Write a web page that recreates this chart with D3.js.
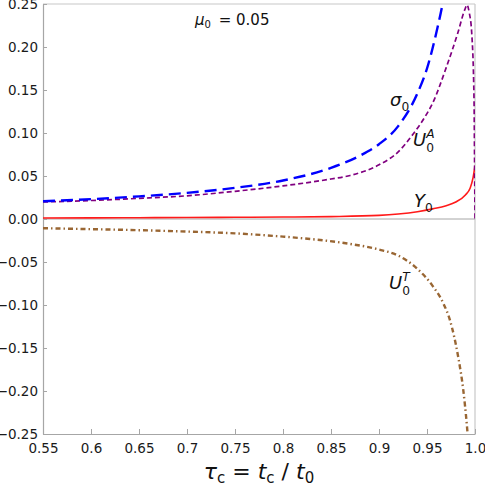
<!DOCTYPE html>
<html>
<head>
<meta charset="utf-8">
<script src="https://cdn.jsdelivr.net/npm/d3@7"></script>
<style>
  body { margin: 0; background: #fff; }
  svg { display: block; font-family: 'DejaVu Sans', sans-serif; }
</style>
</head>
<body>
<svg id="chart" width="485" height="485"></svg>
<script>
// tick positions and labels
const xTicks = [0.55, 0.6, 0.65, 0.7, 0.75, 0.8, 0.85, 0.9, 0.95, 1.0]
const xTickLabels = ['0.55', '0.6', '0.65', '0.7', '0.75', '0.8', '0.85', '0.9', '0.95', '1.0']
const yTicks = [0.25, 0.2, 0.15, 0.1, 0.05, 0, -0.05, -0.1, -0.15, -0.2, -0.25]
const yTickLabels = ['0.25', '0.20', '0.15', '0.10', '0.05', '0.00', '\u22120.05', '\u22120.10', '\u22120.15', '\u22120.20', '\u22120.25']

// sigma_0 (blue long dashes)
const sigmaT = [0.55, 0.6, 0.65, 0.7, 0.75, 0.8, 0.85, 0.88, 0.9, 0.92, 0.94, 0.95, 0.96, 0.967, 0.972]
const sigmaV = [0.0207, 0.0231, 0.0263, 0.0304, 0.0362, 0.0448, 0.0595, 0.0735, 0.087, 0.108, 0.146, 0.175, 0.218, 0.255, 0.29]

// U_0^A (purple short dashes)
const uaT = [0.55, 0.6, 0.65, 0.7, 0.75, 0.8, 0.85, 0.87, 0.9, 0.92, 0.935, 0.948, 0.956, 0.97, 0.982, 0.9896, 0.9917, 0.994, 0.9966, 0.999, 0.9996, 1.0]
const uaV = [0.0198, 0.0215, 0.024, 0.027, 0.0322, 0.0385, 0.0465, 0.0506, 0.063, 0.078, 0.098, 0.119, 0.135, 0.176, 0.216, 0.244, 0.249, 0.24, 0.216, 0.138, 0.06, 0]

// Y_0 (red solid)
const yT = [0.55, 0.6, 0.65, 0.7, 0.75, 0.8, 0.85, 0.9, 0.92, 0.94, 0.956, 0.97, 0.98, 0.99, 0.995, 0.998, 1.0]
const yV = [0.0012, 0.0013, 0.0015, 0.0017, 0.002, 0.0023, 0.0028, 0.0042, 0.0058, 0.0085, 0.0118, 0.0155, 0.0198, 0.028, 0.036, 0.048, 0.062]

// U_0^T (brown dash-dot)
const utT = [0.55, 0.6, 0.65, 0.7, 0.75, 0.8, 0.835, 0.87, 0.9, 0.92, 0.94, 0.956, 0.967, 0.974, 0.9826, 0.9878, 0.9914, 0.995]
const utV = [-0.0107, -0.0118, -0.013, -0.0146, -0.0167, -0.0205, -0.024, -0.029, -0.0355, -0.0425, -0.058, -0.078, -0.098, -0.118, -0.161, -0.199, -0.238, -0.29]

const width = 485, height = 485
const margin = {top: 4, right: 10, bottom: 51, left: 43}
const plotW = width - margin.left - margin.right
const plotH = height - margin.top - margin.bottom

const svg = d3.select('#chart')

const x = d3.scaleLinear().domain([0.55, 1.0]).range([margin.left, margin.left + plotW])
const y = d3.scaleLinear().domain([-0.25, 0.25]).range([margin.top + plotH, margin.top])

svg.append('defs').append('clipPath').attr('id', 'clip')
  .append('rect')
  .attr('x', margin.left).attr('y', margin.top)
  .attr('width', plotW).attr('height', plotH)

// frame
const frameColor = '#a6a6a6'
svg.append('line')
  .attr('x1', x(0.55)).attr('x2', x(1.0)).attr('y1', y(0.25)).attr('y2', y(0.25))
  .attr('stroke', '#c8c8c8').attr('stroke-width', 1.2)
svg.append('line')
  .attr('x1', x(1.0)).attr('x2', x(1.0)).attr('y1', y(0.25)).attr('y2', y(-0.25))
  .attr('stroke', '#c8c8c8').attr('stroke-width', 1.2)
// zero line
svg.append('line')
  .attr('x1', x(0.55)).attr('x2', x(1.0)).attr('y1', y(0)).attr('y2', y(0))
  .attr('stroke', frameColor).attr('stroke-width', 1)

// axes
const xAxis = d3.axisBottom(x).tickValues(xTicks).tickSizeInner(-5).tickSizeOuter(0)
  .tickPadding(9).tickFormat((d, i) => xTickLabels[i])
const yAxis = d3.axisLeft(y).tickValues(yTicks).tickSizeInner(-4).tickSizeOuter(0)
  .tickPadding(5).tickFormat((d, i) => yTickLabels[i])

const gx = svg.append('g').attr('transform', `translate(0,${margin.top + plotH})`).call(xAxis)
const gy = svg.append('g').attr('transform', `translate(${margin.left},0)`).call(yAxis)
;[gx, gy].forEach(g => {
  g.select('.domain').attr('stroke', frameColor).attr('stroke-width', 1.2)
  g.selectAll('.tick line').attr('stroke', frameColor)
  g.selectAll('.tick text').attr('fill', '#1a1a1a')
    .style('font-family', "'DejaVu Sans', sans-serif").style('font-size', '13.5px')
})

// curves
const line = d3.line().x(d => x(d[0])).y(d => y(d[1])).curve(d3.curveMonotoneX)
const plot = svg.append('g').attr('clip-path', 'url(#clip)')

const series = [
  {t: yT, v: yV, color: '#ff1a1a', width: 1.6, dash: null},
  {t: utT, v: utV, color: '#996633', width: 2.4, dash: '5,3,1.5,3'},
  {t: uaT, v: uaV, color: '#800080', width: 1.7, dash: '5,3'},
  {t: sigmaT, v: sigmaV, color: '#0000ff', width: 2.4, dash: '12,6'}
]
series.forEach(s => {
  plot.append('path')
    .datum(d3.zip(s.t, s.v))
    .attr('d', line)
    .attr('fill', 'none')
    .attr('stroke', s.color)
    .attr('stroke-width', s.width)
    .attr('stroke-dasharray', s.dash)
})

// labels
function label(px, py, main, sub, sup, size, mainItalic) {
  const t = svg.append('text').attr('x', px).attr('y', py)
    .style('font-size', size + 'px').attr('fill', '#111')
  t.append('tspan').text(main).style('font-style', mainItalic ? 'italic' : 'normal')
  if (sup) {
    t.append('tspan').attr('dy', -size * 0.45).style('font-size', (size * 0.68) + 'px')
      .style('font-style', 'italic').text(sup)
    t.append('tspan').attr('x', px + size * 0.68 + 1).attr('dy', size * 0.8)
      .style('font-size', (size * 0.68) + 'px').text(sub)
  } else if (sub) {
    t.append('tspan').attr('dy', size * 0.3).style('font-size', (size * 0.68) + 'px').text(sub)
  }
  return t
}

label(390, 106, 'σ', '0', null, 18, true)
label(413, 146, 'U', '0', 'A', 18, true)
label(414, 207, 'Y', '0', null, 18, true)
label(389, 289, 'U', '0', 'T', 18, true)

// mu label
const mu = svg.append('text').attr('x', 195).attr('y', 25).style('font-size', '15px').attr('fill', '#111')
mu.append('tspan').style('font-style', 'italic').text('μ')
mu.append('tspan').attr('dy', 3).style('font-size', '10px').text('0')
mu.append('tspan').attr('dy', -3).text('\u2009 = 0.05')

// x axis title
const xt = svg.append('text').attr('x', (x(0.55) + x(1.0)) / 2).attr('y', 479)
  .attr('text-anchor', 'middle').style('font-size', '22px').attr('fill', '#111')
xt.append('tspan').style('font-style', 'italic').text('τ')
xt.append('tspan').attr('dy', 4).style('font-size', '15px').text('c')
xt.append('tspan').attr('dy', -4).text(' = ')
xt.append('tspan').style('font-style', 'italic').text('t')
xt.append('tspan').attr('dy', 4).style('font-size', '15px').text('c')
xt.append('tspan').attr('dy', -4).text(' / ')
xt.append('tspan').style('font-style', 'italic').text('t')
xt.append('tspan').attr('dy', 4).style('font-size', '15px').text('0')
</script>
</body>
</html>
